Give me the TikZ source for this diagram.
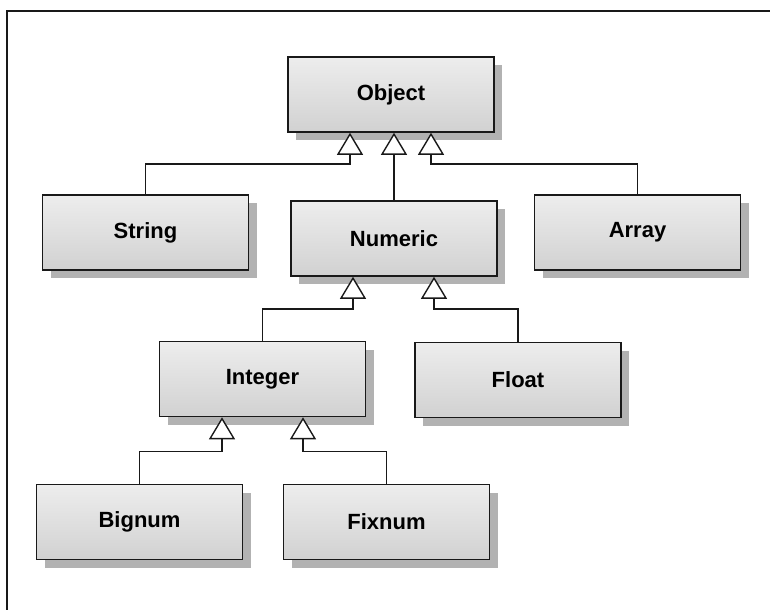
\documentclass[tikz,border=0pt]{standalone}
\usepackage{fontspec}
\setmainfont{Liberation Sans}
\usetikzlibrary{arrows.meta,shadows}

\begin{document}
\begin{tikzpicture}[
            x=1pt, y=-1pt,
            class/.style={rectangle, draw=black!90, line width=1.6pt,
              top color=black!7, bottom color=black!18,
              minimum width=206pt, minimum height=75pt, inner sep=0pt,
              font=\fontsize{22}{25}\selectfont\bfseries,
              drop shadow={shadow xshift=8pt, shadow yshift=-8pt, fill=black!30, opacity=1}},
            inherits/.style={draw=black!90, line width=1.4pt,
              -{Triangle[length=22pt, width=26pt, fill=white, line width=1.4pt]}}
            ]
            \useasboundingbox (0,0) rectangle (770,610);
            \draw[line width=2pt, black!90] (770,11) -| (7,610);

            % classes
            \node[class] (object)  at (391,94.5)   {Object};
            \node[class] (string)  at (145.5,232.5) {String};
            \node[class] (numeric) at (394,238.5)  {Numeric};
            \node[class] (array)   at (637.5,232.5) {Array};
            \node[class] (integer) at (262.5,379)  {Integer};
            \node[class] (float)   at (518,380)    {Float};
            \node[class] (bignum)  at (139.5,522)  {Bignum};
            \node[class] (fixnum)  at (386.5,522)  {Fixnum};

            % generalisations
            \draw[inherits] (string.north) |- ([xshift=-41pt,yshift=-31pt]object.south) -- ([xshift=-41pt]object.south);
            \draw[inherits] (numeric.north) -- (numeric.north |- object.south);
            \draw[inherits] (array.north) |- ([xshift=40pt,yshift=-31pt]object.south) -- ([xshift=40pt]object.south);
            \draw[inherits] (integer.north) |- ([xshift=-41pt,yshift=-32pt]numeric.south) -- ([xshift=-41pt]numeric.south);
            \draw[inherits] (float.north) |- ([xshift=40pt,yshift=-32pt]numeric.south) -- ([xshift=40pt]numeric.south);
            \draw[inherits] (bignum.north) |- ([xshift=-40.5pt,yshift=-34pt]integer.south) -- ([xshift=-40.5pt]integer.south);
            \draw[inherits] (fixnum.north) |- ([xshift=40.5pt,yshift=-34pt]integer.south) -- ([xshift=40.5pt]integer.south);
        \end{tikzpicture}
\end{document}
